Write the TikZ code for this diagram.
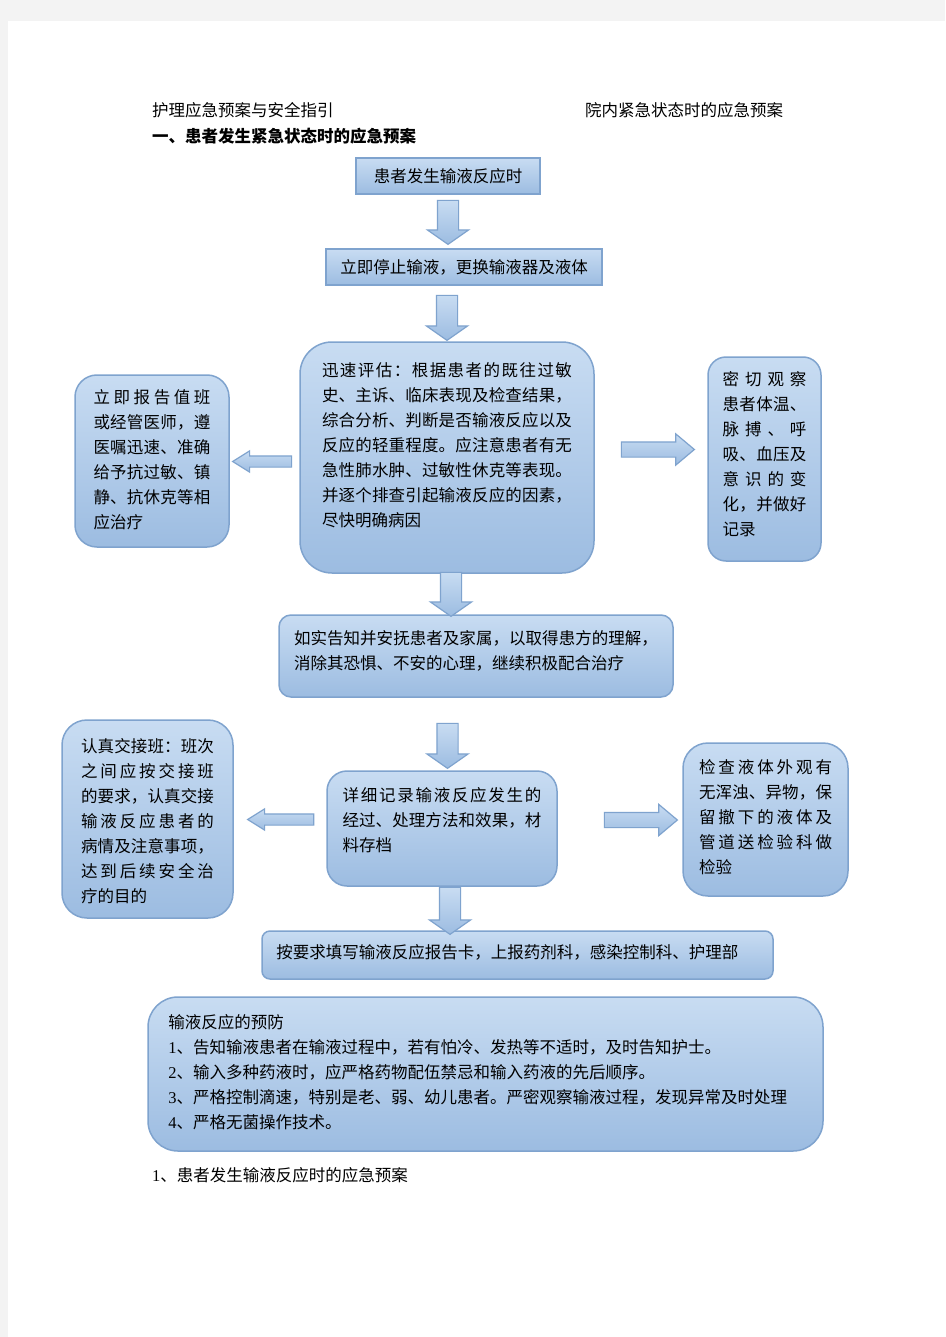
\documentclass[tikz,border=0pt]{standalone}
\usepackage{fontspec}
\setmainfont{Noto Sans CJK SC}
\newfontfamily\numfont{Liberation Serif}
\usepackage{tikz}
\usetikzlibrary{shapes.arrows}
\usetikzlibrary{positioning}
% stretchable glue between CJK characters, for the justified lines
\newXeTeXintercharclass\hanzi
\newXeTeXintercharclass\hanpunct
\newcount\hzc
\hzc="4E00
\loop\XeTeXcharclass\hzc=\hanzi\advance\hzc by 1\ifnum\hzc<"A000\repeat
\XeTeXcharclass"3001=\hanpunct
\XeTeXcharclass"3002=\hanpunct
\XeTeXcharclass"FF0C=\hanpunct
\XeTeXcharclass"FF1A=\hanpunct
\XeTeXinterchartokenstate=1
\XeTeXinterchartoks\hanzi\hanzi={\hskip 0pt plus 4pt\relax}
\XeTeXinterchartoks\hanzi\hanpunct={\hskip 0pt plus 4pt\relax}
\XeTeXinterchartoks\hanpunct\hanzi={\hskip 0pt plus 4pt\relax}
\XeTeXinterchartoks\hanpunct\hanpunct={\hskip 0pt plus 4pt\relax}
\newcommand{\jl}[1]{\makebox[\hsize][s]{#1}}
\newcommand{\dg}[1]{{\numfont #1}}
\definecolor{pagegray}{HTML}{F3F3F3}
\definecolor{bxtop}{HTML}{C8DCF2}
\definecolor{bxbot}{HTML}{9CBCE1}
\definecolor{bxline}{HTML}{7FA3CE}
\tikzset{
	box/.style={draw=bxline, line width=1.5pt, top color=bxtop, bottom color=bxbot, inner sep=0pt},
	txt/.style={align=left, inner sep=0pt},
	arrbase/.style={single arrow, draw=bxline, line width=1.2pt, top color=bxtop, bottom color=bxbot},
	arrv/.style={arrbase, shape border rotate=270, inner sep=10pt, single arrow head extend=10pt, single arrow tip angle=110, minimum height=45pt},
	arrl/.style={arrbase, shape border rotate=180, inner sep=5pt, single arrow head extend=5pt, single arrow tip angle=64},
	arrr/.style={arrbase, inner sep=7pt, single arrow head extend=8pt, single arrow tip angle=80},
}

\begin{document}
\begin{tikzpicture}[x=1pt, y=-1pt, font=\fontsize{16.5}{25}\selectfont]
	\useasboundingbox (0,0) rectangle (945,1337);
	% page and headings:
	\fill[pagegray] (0,0) rectangle (945,1337);
	\fill[white] (8,21) rectangle (945,1337);
	\node[anchor=west, inner sep=0pt] (H1) at (152,110) {护理应急预案与安全指引};
	\node[anchor=west, inner sep=0pt] (H2) at (585,110) {院内紧急状态时的应急预案};
	\node[anchor=west, inner sep=0pt] (H3) at (152,136) {\bfseries 一、患者发生紧急状态时的应急预案};
	% boxes:
	\node[box, minimum width=184pt, minimum height=36pt] (B1) at (448,176) {患者发生输液反应时};
	\node[box, minimum width=276pt, minimum height=36pt] (B2) at (464,267) {立即停止输液，更换输液器及液体};
	\node[box, minimum width=294pt, minimum height=231pt, rounded corners=32pt] (B3) at (447,457.5) {};
	\node[txt, text width=250pt] (T3) at ([yshift=12.5pt]B3.center) {\jl{迅速评估：根据患者的既往过敏}\\ \jl{史、主诉、临床表现及检查结果，}\\ \jl{综合分析、判断是否输液反应以及}\\ \jl{反应的轻重程度。应注意患者有无}\\ \jl{急性肺水肿、过敏性休克等表现。}\\ \jl{并逐个排查引起输液反应的因素，}\\ 尽快明确病因};
	\node[box, minimum width=154pt, minimum height=172pt, rounded corners=22pt] (B4) at (152,461) {};
	\node[txt, text width=117pt] (T4) at ([yshift=1pt]B4.center) {\jl{立即报告值班}\\ \jl{或经管医师，遵}\\ \jl{医嘱迅速、准确}\\ \jl{给予抗过敏、镇}\\ \jl{静、抗休克等相}\\ 应治疗};
	\node[box, minimum width=113pt, minimum height=204pt, rounded corners=18pt] (B5) at (764.5,459) {};
	\node[txt, text width=84pt] (T5) at ([yshift=5pt]B5.center) {\jl{密切观察}\\ \jl{患者体温、}\\ \jl{脉搏、呼}\\ \jl{吸、血压及}\\ \jl{意识的变}\\ \jl{化，并做好}\\ 记录};
	\node[box, minimum width=394pt, minimum height=82pt, rounded corners=12pt] (B6) at (476,656) {};
	\node[txt, text width=364pt] (T6) at ([yshift=5.5pt]B6.center) {\jl{如实告知并安抚患者及家属，以取得患方的理解，}\\ 消除其恐惧、不安的心理，继续积极配合治疗};
	\node[box, minimum width=171pt, minimum height=198pt, rounded corners=25pt] (B7) at (147.5,819) {};
	\node[txt, text width=133pt] (T7) at ([yshift=-2pt]B7.center) {\jl{认真交接班：班次}\\ \jl{之间应按交接班}\\ \jl{的要求，认真交接}\\ \jl{输液反应患者的}\\ \jl{病情及注意事项，}\\ \jl{达到后续安全治}\\ 疗的目的};
	\node[box, minimum width=230pt, minimum height=115pt, rounded corners=20pt] (B8) at (442,828.5) {};
	\node[txt, text width=199pt] (T8) at ([yshift=8pt]B8.center) {\jl{详细记录输液反应发生的}\\ \jl{经过、处理方法和效果，材}\\ 料存档};
	\node[box, minimum width=165pt, minimum height=153pt, rounded corners=25pt] (B9) at (765.5,819.5) {};
	\node[txt, text width=133pt] (T9) at ([yshift=2pt]B9.center) {\jl{检查液体外观有}\\ \jl{无浑浊、异物，保}\\ \jl{留撤下的液体及}\\ \jl{管道送检验科做}\\ 检验};
	\node[box, minimum width=511pt, minimum height=48pt, rounded corners=8pt] (B10) at (517.5,955) {};
	\node[txt, anchor=west] (T10) at ([xshift=15pt, yshift=3pt]B10.west) {按要求填写输液反应报告卡，上报药剂科，感染控制科、护理部};
	\node[box, minimum width=675pt, minimum height=154pt, rounded corners=30pt] (B11) at (485.5,1074) {};
	\node[txt, anchor=west] (T11) at ([xshift=21pt, yshift=2pt]B11.west) {输液反应的预防\\ \dg{1}、告知输液患者在输液过程中，若有怕冷、发热等不适时，及时告知护士。\\ \dg{2}、输入多种药液时，应严格药物配伍禁忌和输入药液的先后顺序。\\ \dg{3}、严格控制滴速，特别是老、弱、幼儿患者。严密观察输液过程，发现异常及时处理\\ \dg{4}、严格无菌操作技术。};
	\node[anchor=west, inner sep=0pt] (H4) at (152,1175) {\dg{1}、患者发生输液反应时的应急预案};
	% block arrows:
	\node[arrv, minimum height=44pt, below=5pt of B1] (A1) {};
	\node[arrv, below=9pt of B2, xshift=-17pt] (A2) {};
	\node[arrv, minimum height=44pt, below=-2pt of B3, xshift=4pt] (A3) {};
	\node[arrv, below=25pt of B6, xshift=-28.5pt] (A4) {};
	\node[arrv, minimum height=47pt, below=0pt of B8, xshift=8pt] (A5) {};
	\node[arrl, minimum height=59pt, left=7pt of B3, yshift=-4pt] (A6) {};
	\node[arrr, minimum height=73pt, right=26pt of B3, yshift=8pt] (A7) {};
	\node[arrl, minimum height=66pt, left=12pt of B8, yshift=9pt] (A8) {};
	\node[arrr, minimum height=73pt, right=46pt of B8, yshift=8.5pt] (A9) {};
\end{tikzpicture}
\end{document}
